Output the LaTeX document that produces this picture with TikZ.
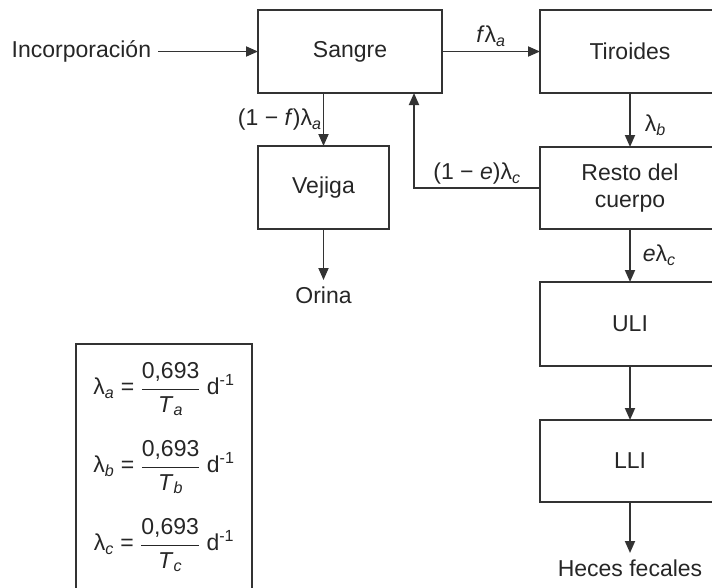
\documentclass[tikz,border=0pt]{standalone}
\usepackage{fontspec}
\setmainfont{Liberation Sans}
\usepackage{tikz}
\usetikzlibrary{arrows.meta, positioning}
\colorlet{colorLine}{black!80}
\colorlet{colorText}{black!85}
\tikzset{
  compartment/.style={draw=colorLine, minimum height=83pt, inner sep=0pt, outer sep=0pt, align=center},
  flowlabel/.style={inner sep=4pt},
  terminal/.style={inner sep=6pt}
}

\begin{document}
\begin{tikzpicture}[x=1pt, y=-1pt, >={Triangle[length=12pt, width=10pt]}, line width=1.8pt, draw=colorLine, text=colorText, font=\fontsize{23}{27}\selectfont]
\useasboundingbox (0,0) rectangle (712,587);
\node[compartment, minimum width=184pt] (sangre) at (350,51.5) {Sangre};
\node[compartment, minimum width=180pt, right=98pt of sangre] (tiroides) {Tiroides};
\node[compartment, minimum width=180pt, minimum height=82pt, below=54pt of tiroides] (resto) {Resto del\\cuerpo};
\node[compartment, minimum width=180pt, minimum height=84pt, below=53pt of resto] (uli) {ULI};
\node[compartment, minimum width=180pt, minimum height=82pt, below=54pt of uli] (lli) {LLI};
\node[terminal, below=51pt of lli] (heces) {Heces fecales};
\node[compartment, minimum width=131pt, below right=53pt and 0pt of sangre.south west] (vejiga) {Vejiga};
\node[terminal, below=51pt of vejiga] (orina) {Orina};
\node[terminal, left=100pt of sangre] (incorp) {Incorporación};
% flows
\draw[->] (incorp) -- (sangre);
\draw[->] (sangre) -- node[flowlabel, above]{\textit{f}λ\textsubscript{\textit{a}}} (tiroides);
\draw[->] (vejiga.north |- sangre.south) -- node[flowlabel, left, inner sep=1pt]{(1 − \textit{f\/})λ\textsubscript{\textit{a}}} (vejiga);
\draw[->] (vejiga) -- (orina);
\draw[->] (tiroides) -- node[flowlabel, right, pos=0.6, inner sep=14pt]{λ\textsubscript{\textit{b}}} (resto);
\draw[->] (resto.west) -| node[flowlabel, above, pos=0.25, inner sep=3pt]{(1 − \textit{e})λ\textsubscript{\textit{c}}} ([xshift=-28pt]sangre.south east);
\draw[->] (resto) -- node[flowlabel, right, inner sep=12pt]{\textit{e}λ\textsubscript{\textit{c}}} (uli);
\draw[->] (uli) -- (lli);
\draw[->] (lli) -- (heces);
% constants
\node[compartment, minimum width=176pt, minimum height=260pt, anchor=north west] (leyenda) at (76,344) {};
\node (eqa) at (164,389) {λ\textsubscript{\textit{a}} = $\displaystyle\frac{\mbox{0,693}}{\mbox{\textit{T}\textsubscript{\textit{a}}}}$ d\textsuperscript{-1}};
\node (eqb) at (164,467) {λ\textsubscript{\textit{b}} = $\displaystyle\frac{\mbox{0,693}}{\mbox{\textit{T}\textsubscript{\textit{b}}}}$ d\textsuperscript{-1}};
\node (eqc) at (164,545) {λ\textsubscript{\textit{c}} = $\displaystyle\frac{\mbox{0,693}}{\mbox{\textit{T}\textsubscript{\textit{c}}}}$ d\textsuperscript{-1}};
\end{tikzpicture}
\end{document}
